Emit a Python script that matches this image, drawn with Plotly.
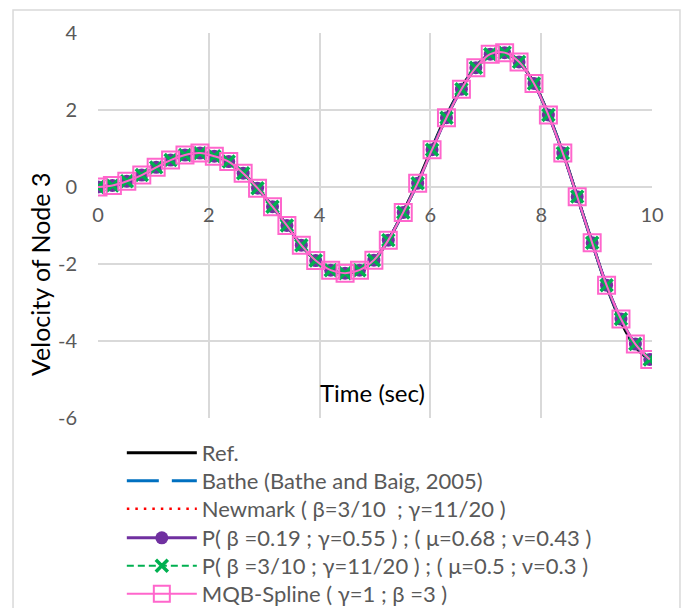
import plotly.graph_objects as go

# Time samples (sec)
time = [0.00, 0.26, 0.52, 0.79, 1.05, 1.31, 1.57, 1.84, 2.10, 2.36,
        2.62, 2.88, 3.15, 3.41, 3.67, 3.93, 4.20, 4.46, 4.72, 4.98,
        5.24, 5.51, 5.77, 6.03, 6.29, 6.56, 6.82, 7.08, 7.34, 7.60,
        7.87, 8.13, 8.39, 8.65, 8.92, 9.18, 9.44, 9.70, 9.96]

# Velocity of node 3 for each integration scheme
v_ref = [0.00, 0.04, 0.15, 0.31, 0.51, 0.70, 0.83, 0.88, 0.80, 0.66,
         0.36, -0.03, -0.51, -1.00, -1.51, -1.91, -2.16, -2.24, -2.16, -1.90,
         -1.38, -0.64, 0.14, 1.02, 1.86, 2.58, 3.13, 3.46, 3.49, 3.25,
         2.70, 1.89, 0.90, -0.24, -1.45, -2.58, -3.50, -4.15, -4.50]
v_bathe = [0.00, 0.04, 0.15, 0.31, 0.51, 0.70, 0.83, 0.88, 0.80, 0.66,
           0.36, -0.03, -0.51, -1.00, -1.51, -1.91, -2.16, -2.24, -2.16, -1.90,
           -1.38, -0.66, 0.11, 0.98, 1.82, 2.55, 3.11, 3.45, 3.49, 3.25,
           2.69, 1.88, 0.89, -0.25, -1.45, -2.56, -3.45, -4.10, -4.48]
v_newmark = [0.00, 0.04, 0.15, 0.31, 0.51, 0.70, 0.83, 0.88, 0.80, 0.66,
             0.36, -0.03, -0.51, -1.00, -1.51, -1.91, -2.16, -2.24, -2.16, -1.90,
             -1.38, -0.66, 0.10, 0.97, 1.80, 2.54, 3.10, 3.45, 3.49, 3.25,
             2.69, 1.87, 0.88, -0.25, -1.45, -2.55, -3.43, -4.08, -4.48]
v_p1 = [0.00, 0.04, 0.15, 0.31, 0.51, 0.70, 0.83, 0.88, 0.80, 0.66,
        0.36, -0.03, -0.51, -1.00, -1.51, -1.91, -2.16, -2.24, -2.16, -1.90,
        -1.38, -0.66, 0.10, 0.97, 1.80, 2.54, 3.10, 3.45, 3.49, 3.25,
        2.69, 1.87, 0.88, -0.25, -1.45, -2.55, -3.43, -4.08, -4.48]
v_p2 = [0.00, 0.04, 0.15, 0.31, 0.51, 0.70, 0.83, 0.88, 0.80, 0.66,
        0.36, -0.03, -0.51, -1.00, -1.51, -1.91, -2.16, -2.24, -2.16, -1.90,
        -1.38, -0.66, 0.10, 0.97, 1.80, 2.54, 3.10, 3.45, 3.49, 3.25,
        2.69, 1.87, 0.88, -0.25, -1.45, -2.55, -3.43, -4.08, -4.48]
v_mqb = [0.00, 0.04, 0.15, 0.31, 0.51, 0.70, 0.83, 0.88, 0.80, 0.66,
         0.36, -0.03, -0.51, -1.00, -1.51, -1.91, -2.16, -2.24, -2.16, -1.90,
         -1.38, -0.66, 0.10, 0.97, 1.80, 2.54, 3.10, 3.45, 3.49, 3.25,
         2.69, 1.87, 0.88, -0.25, -1.45, -2.55, -3.43, -4.08, -4.48]

x_ticks = [0, 2, 4, 6, 8, 10]
y_ticks = [4, 2, 0, -2, -4, -6]

names = [
    "Ref.",
    "Bathe (Bathe and Baig, 2005)",
    "Newmark ( β=3/10  ; γ=11/20 )",
    "P( β =0.19 ; γ=0.55 ) ; ( μ=0.68 ; ν=0.43 )",
    "P( β =3/10 ; γ=11/20 ) ; ( μ=0.5 ; ν=0.3 )",
    "MQB-Spline ( γ=1 ; β =3 )",
]

FONT = "Lato"
GRID = "#d9d9d9"
TXT = "#595959"
W, H = 688, 608
PLOT_TOP, PLOT_BOTTOM = 33, 418   # plot area in page pixels

# each entry gets its own legend box so the rows sit at fixed heights
legend_ids = ["legend", "legend2", "legend3", "legend4", "legend5", "legend6"]

fig = go.Figure()
fig.add_trace(go.Scatter(x=time, y=v_ref, name=names[0], mode="lines", legend=legend_ids[0],
                         line=dict(color="#000000", width=3, shape="spline")))
fig.add_trace(go.Scatter(x=time, y=v_bathe, name=names[1], mode="lines", legend=legend_ids[1],
                         line=dict(color="#0070C0", width=3, dash="32px,13px", shape="spline")))
fig.add_trace(go.Scatter(x=time, y=v_newmark, name=names[2], mode="lines", legend=legend_ids[2],
                         line=dict(color="#FF0000", width=2.5, dash="2.5px,6px", shape="spline")))
fig.add_trace(go.Scatter(x=time, y=v_p1, name=names[3], mode="lines+markers", legend=legend_ids[3],
                         line=dict(color="#7030A0", width=3, shape="spline"),
                         marker=dict(symbol="circle", size=13, color="#7030A0")))
fig.add_trace(go.Scatter(x=time, y=v_p2, name=names[4], mode="lines+markers", legend=legend_ids[4],
                         line=dict(color="#00B050", width=2, dash="7px,4px", shape="spline"),
                         marker=dict(symbol="x-thin", size=12, color="#00B050",
                                     line=dict(color="#00B050", width=3.5))))
fig.add_trace(go.Scatter(x=time, y=v_mqb, name=names[5], mode="lines+markers", legend=legend_ids[5],
                         line=dict(color="#FF66CC", width=2, shape="spline"),
                         marker=dict(symbol="square-open", size=17, color="#FF66CC",
                                     line=dict(color="#FF66CC", width=2))))

row_centres = [453, 481, 509, 538, 566, 594]
plot_h = PLOT_BOTTOM - PLOT_TOP
legend_layout = {}
for lid, yc in zip(legend_ids, row_centres):
    legend_layout[lid] = dict(
        x=0.043, y=(PLOT_BOTTOM - yc) / plot_h, xanchor="left", yanchor="middle",
        font=dict(family=FONT, size=22, color=TXT),
        itemwidth=70, bgcolor="rgba(0,0,0,0)",
    )

fig.update_layout(
    width=W, height=H,
    margin=dict(l=98, r=36, t=PLOT_TOP, b=H - PLOT_BOTTOM, autoexpand=False),
    paper_bgcolor="white", plot_bgcolor="white",
    font=dict(family=FONT, size=20, color=TXT),
    showlegend=True,
    xaxis=dict(range=[0, 10], tickvals=x_ticks, ticktext=[str(v) for v in x_ticks],
               showgrid=True, gridcolor=GRID, gridwidth=1.5, zeroline=False,
               showline=False, anchor="free", position=0.6, ticklabelstandoff=14,
               tickfont=dict(family=FONT, size=20, color=TXT)),
    yaxis=dict(range=[-6, 4], tickvals=y_ticks, ticktext=[str(v) for v in y_ticks],
               showgrid=True, gridcolor=GRID, gridwidth=1.5, zeroline=False,
               showline=False, ticklabelstandoff=20,
               tickfont=dict(family=FONT, size=20, color=TXT)),
    shapes=[dict(type="rect", xref="paper", yref="paper",
                 x0=-0.1534, x1=1.0505, y0=-0.53, y1=1.0597,
                 line=dict(color=GRID, width=1.5), fillcolor="rgba(0,0,0,0)",
                 layer="below")],
    annotations=[
        dict(text="Time (sec)", xref="paper", yref="paper", x=0.496, y=0.065,
             xanchor="center", yanchor="middle", showarrow=False,
             font=dict(family=FONT, size=24, color="#000000")),
        dict(text="Velocity of Node 3", xref="paper", yref="paper", x=-0.1047, y=0.374,
             xanchor="center", yanchor="middle", textangle=-90, showarrow=False,
             font=dict(family=FONT, size=25, color="#000000")),
    ],
    **legend_layout,
)

fig.write_html("out.html")
